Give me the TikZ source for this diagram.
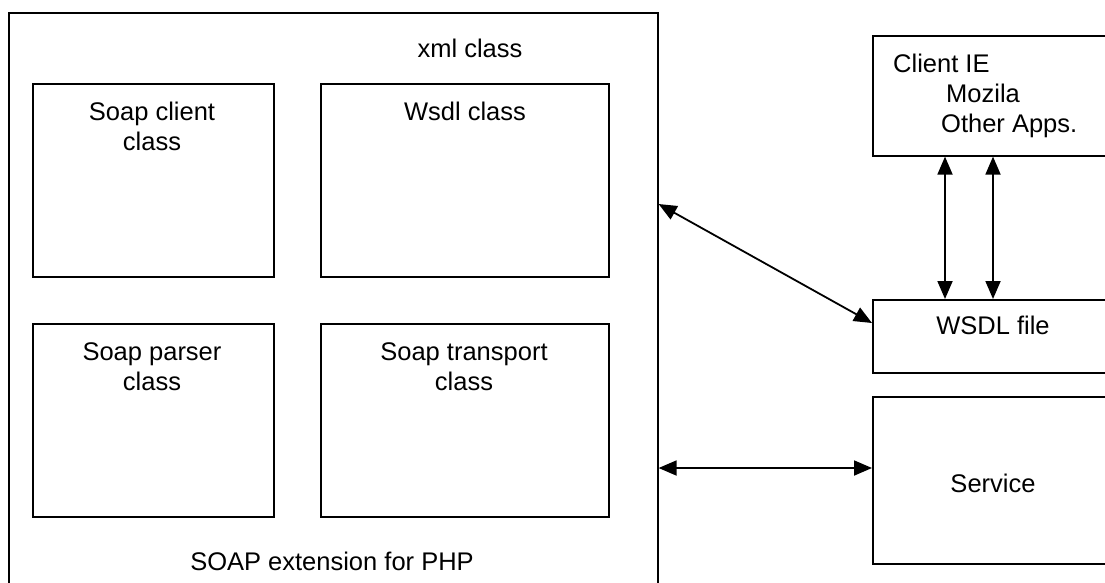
\documentclass[tikz,border=0pt]{standalone}
\usepackage{fontspec}
\setmainfont{Liberation Sans}
\usetikzlibrary{arrows.meta}
\begin{document}
\begin{tikzpicture}[x=1pt,y=-1pt,
  box/.style={draw=black, line width=1.6pt, rectangle, inner sep=0pt, anchor=north west},
  lbl/.style={anchor=base, inner sep=0pt, font=\fontsize{25.5}{30}\selectfont},
  lbll/.style={anchor=base west, inner sep=0pt, font=\fontsize{25.5}{30}\selectfont},
  arr/.style={line width=1.8pt, {Triangle[length=18pt,width=15pt]}-{Triangle[length=18pt,width=15pt]}}]
\useasboundingbox (0,0) rectangle (1105,582);
\clip (0,0) rectangle (1105,582);
\fill[white] (0,0) rectangle (1105,582);
% outer box
\node[box, minimum width=649pt, minimum height=600pt] (ext) at (8,12) {};
\node[lbl] (xmlt) at (470,57) {xml class};
\node[lbl] (extt) at (332,570) {SOAP extension for PHP};
% inner boxes
\node[box, minimum width=241pt, minimum height=193pt] (sc) at (32,83) {};
\node[box, minimum width=288pt, minimum height=193pt] (wc) at (320,83) {};
\node[box, minimum width=241pt, minimum height=193pt] (sp) at (32,323) {};
\node[box, minimum width=288pt, minimum height=193pt] (st) at (320,323) {};
\node[lbl] (sc1) at (152,120) {Soap client};
\node[lbl] (sc2) at (152,150) {class};
\node[lbl] (wc1) at (465,120) {Wsdl class};
\node[lbl] (sp1) at (152,360) {Soap parser};
\node[lbl] (sp2) at (152,390) {class};
\node[lbl] (st1) at (464,360) {Soap transport};
\node[lbl] (st2) at (464,390) {class};
% right boxes
\node[box, minimum width=260pt, minimum height=120pt] (client) at (872,35) {};
\node[lbll] (cl1) at (893,72) {Client IE};
\node[lbll] (cl2) at (946,102) {Mozila};
\node[lbll] (cl3) at (941,132) {Other Apps.};
\node[box, minimum width=260pt, minimum height=73pt] (wsdl) at (872,299) {};
\node[lbl] (wsdlt) at (993,334) {WSDL file};
\node[box, minimum width=260pt, minimum height=167pt] (svc) at (872,396) {};
\node[lbl] (svct) at (993,492) {Service};
% connectors
\coordinate (dA) at (657,204);
\coordinate (dB) at (872,323);
\coordinate (hA) at (657,468);
\coordinate (vA) at (945,0);
\coordinate (vB) at (993,0);
\draw[arr] (ext.east |- dA) -- (wsdl.west |- dB);
\draw[arr] (ext.east |- hA) -- (svc.west |- hA);
\draw[arr] (client.south -| vA) -- (wsdl.north -| vA);
\draw[arr] (client.south -| vB) -- (wsdl.north -| vB);
\end{tikzpicture}
\end{document}
